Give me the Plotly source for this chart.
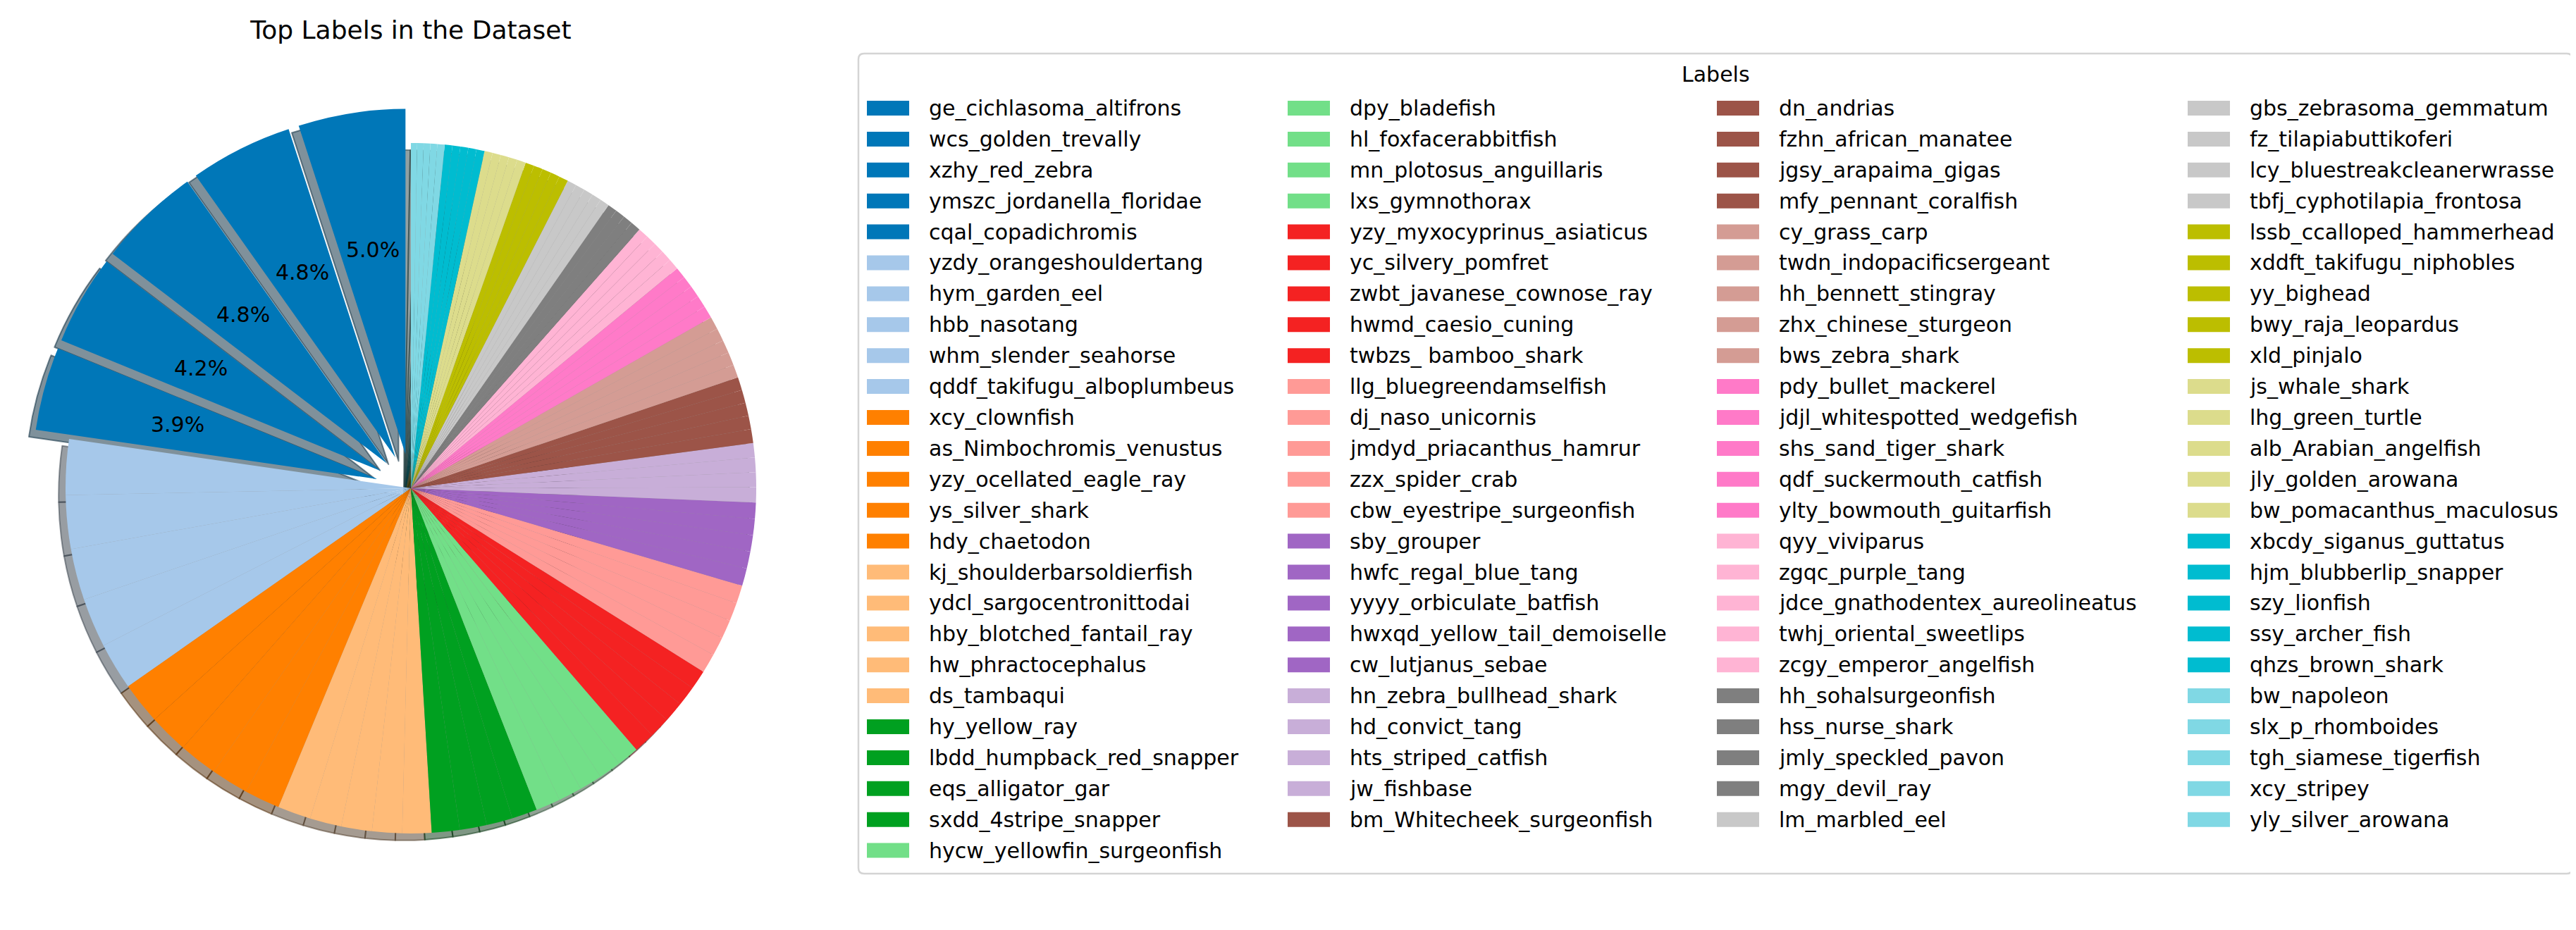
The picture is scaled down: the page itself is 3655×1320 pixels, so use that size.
import math
import plotly.graph_objects as go

# class names, in slice order (largest share first)
labels = [
    "ge_cichlasoma_altifrons", "wcs_golden_trevally", "xzhy_red_zebra",
    "ymszc_jordanella_floridae", "cqal_copadichromis", "yzdy_orangeshouldertang",
    "hym_garden_eel", "hbb_nasotang", "whm_slender_seahorse",
    "qddf_takifugu_alboplumbeus", "xcy_clownfish", "as_Nimbochromis_venustus",
    "yzy_ocellated_eagle_ray", "ys_silver_shark", "hdy_chaetodon",
    "kj_shoulderbarsoldierfish", "ydcl_sargocentronittodai", "hby_blotched_fantail_ray",
    "hw_phractocephalus", "ds_tambaqui", "hy_yellow_ray", "lbdd_humpback_red_snapper",
    "eqs_alligator_gar", "sxdd_4stripe_snapper", "hycw_yellowfin_surgeonfish",
    "dpy_bladefish", "hl_foxfacerabbitfish", "mn_plotosus_anguillaris", "lxs_gymnothorax",
    "yzy_myxocyprinus_asiaticus", "yc_silvery_pomfret", "zwbt_javanese_cownose_ray",
    "hwmd_caesio_cuning", "twbzs_ bamboo_shark", "llg_bluegreendamselfish",
    "dj_naso_unicornis", "jmdyd_priacanthus_hamrur", "zzx_spider_crab",
    "cbw_eyestripe_surgeonfish", "sby_grouper", "hwfc_regal_blue_tang",
    "yyyy_orbiculate_batfish", "hwxqd_yellow_tail_demoiselle", "cw_lutjanus_sebae",
    "hn_zebra_bullhead_shark", "hd_convict_tang", "hts_striped_catfish", "jw_fishbase",
    "bm_Whitecheek_surgeonfish", "dn_andrias", "fzhn_african_manatee",
    "jgsy_arapaima_gigas", "mfy_pennant_coralfish", "cy_grass_carp",
    "twdn_indopacificsergeant", "hh_bennett_stingray", "zhx_chinese_sturgeon",
    "bws_zebra_shark", "pdy_bullet_mackerel", "jdjl_whitespotted_wedgefish",
    "shs_sand_tiger_shark", "qdf_suckermouth_catfish", "ylty_bowmouth_guitarfish",
    "qyy_viviparus", "zgqc_purple_tang", "jdce_gnathodentex_aureolineatus",
    "twhj_oriental_sweetlips", "zcgy_emperor_angelfish", "hh_sohalsurgeonfish",
    "hss_nurse_shark", "jmly_speckled_pavon", "mgy_devil_ray", "lm_marbled_eel",
    "gbs_zebrasoma_gemmatum", "fz_tilapiabuttikoferi", "lcy_bluestreakcleanerwrasse",
    "tbfj_cyphotilapia_frontosa", "lssb_ccalloped_hammerhead", "xddft_takifugu_niphobles",
    "yy_bighead", "bwy_raja_leopardus", "xld_pinjalo", "js_whale_shark",
    "lhg_green_turtle", "alb_Arabian_angelfish", "jly_golden_arowana",
    "bw_pomacanthus_maculosus", "xbcdy_siganus_guttatus", "hjm_blubberlip_snapper",
    "szy_lionfish", "ssy_archer_fish", "qhzs_brown_shark", "bw_napoleon",
    "slx_p_rhomboides", "tgh_siamese_tigerfish", "xcy_stripey", "yly_silver_arowana",
]

# share of the dataset (%)
share = [
    5.0, 4.8, 4.8, 4.2, 3.9,
    2.6, 2.5, 2.4, 2.3, 2.2,
    1.95, 1.85, 1.8, 1.75, 1.65,
    1.55, 1.48, 1.43, 1.40, 1.36,
    1.30, 1.26, 1.22, 1.19,
    1.15, 1.10, 1.07, 1.05, 1.02,
    0.99, 0.97, 0.95, 0.93, 0.91,
    0.90, 0.88, 0.87, 0.86, 0.85,
    0.82, 0.79, 0.77, 0.76, 0.75,
    0.71, 0.69, 0.68, 0.67,
    0.65, 0.63, 0.61, 0.61, 0.61,
    0.61, 0.61, 0.61, 0.60, 0.60,
    0.58, 0.56, 0.55, 0.54, 0.52,
    0.51, 0.51, 0.50, 0.49, 0.49,
    0.47, 0.45, 0.45, 0.44,
    0.44, 0.44, 0.44, 0.44, 0.43,
    0.43, 0.43, 0.42, 0.42, 0.41,
    0.41, 0.40, 0.39, 0.39, 0.38,
    0.38, 0.38, 0.37, 0.37, 0.36,
    0.34, 0.32, 0.31, 0.30, 0.29,
]

# tab20-like palette as it appears in the picture
palette = [
    "#0077b8", "#a6c8ea", "#ff8000", "#ffbb78", "#00a020", "#72df88",
    "#f42222", "#ff9a96", "#a066c4", "#c8aed8", "#9c5448", "#d49c94",
    "#ff7ac8", "#ffb4d4", "#7f7f7f", "#c8c8c8", "#bcbe00", "#dcdc8c",
    "#00bcd0", "#80d8e4",
]

W, H = 3655, 1320
FONT = "DejaVu Sans"
n = len(share)
total = sum(share)
colors = [palette[min(i * 20 // (n - 1), 19)] for i in range(n)]


def shadow_of(hex_color):
    # matplotlib shadow: 0.3 * colour drawn at alpha 0.5
    rgb = [int(hex_color[k:k + 2], 16) for k in (1, 3, 5)]
    return "rgba(%d,%d,%d,0.5)" % tuple(round(0.3 * c) for c in rgb)


pulls = [0.1 if i < 5 else 0 for i in range(n)]
# plotly ends the first ccw slice at 12 o'clock, matplotlib starts it there
rot = -share[0] / total * 360

# pie placement in pixels
cx, cy, R = 575, 685, 490
half = R * (1 + max(pulls))
off = 0.02 * R


def dom(dx=0, dy=0):
    return dict(x=[(cx + dx - half) / W, (cx + dx + half) / W],
                y=[1 - (cy + dy + half) / H, 1 - (cy + dy - half) / H])


fig = go.Figure()

# shadow below the slices
shadow_cols = [shadow_of(c) for c in colors]
fig.add_trace(go.Pie(labels=labels, values=share, sort=False, direction="counterclockwise",
                     rotation=rot, pull=pulls, textinfo="none", hoverinfo="skip",
                     marker=dict(colors=shadow_cols, line=dict(color=shadow_cols, width=2)),
                     domain=dom(-off, off), showlegend=False))

fig.add_trace(go.Pie(labels=labels, values=share, sort=False, direction="counterclockwise",
                     rotation=rot, pull=pulls, textinfo="none",
                     marker=dict(colors=colors), domain=dom(), showlegend=False))

annotations = []
shapes = []

# percentage labels for the big slices (autopct style, 0.6 r + explode)
cum = 0
for i, v in enumerate(share):
    mid = cum + v / 2
    cum += v
    pct = v / total * 100
    if pct > 3:
        th = math.radians(90 + mid / total * 360)
        rr = (pulls[i] + 0.6) * R
        annotations.append(dict(x=(cx + rr * math.cos(th)) / W, y=1 - (cy - rr * math.sin(th)) / H,
                                xref="paper", yref="paper", text=f"{pct:.1f}%", showarrow=False,
                                xanchor="center", yanchor="middle",
                                font=dict(family=FONT, size=30, color="black")))

# legend, 4 columns
col_x = [1222, 1819, 2428, 3096]
col_len = [25, 24, 24, 24]
row0, row_h = 145.5, 43.9
sw_w, sw_h = 60, 21
i = 0
for c, cnt in enumerate(col_len):
    for r in range(cnt):
        y = row0 + r * row_h
        x = col_x[c]
        shapes.append(dict(type="rect", xref="paper", yref="paper",
                           x0=x / W, x1=(x + sw_w) / W,
                           y0=1 - (y + sw_h / 2) / H, y1=1 - (y - sw_h / 2) / H,
                           fillcolor=colors[i], line=dict(width=0)))
        annotations.append(dict(x=(x + 86) / W, y=1 - y / H, xref="paper", yref="paper",
                                text=labels[i], showarrow=False, xanchor="left", yanchor="middle",
                                font=dict(family=FONT, size=30, color="black")))
        i += 1

# legend frame with rounded corners
fx0, fx1, fy0, fy1, rad = 1210, 3642, 68, 1232, 8


def P(x, y):
    return f"{x / W:.6f},{1 - y / H:.6f}"


frame = (f"M {P(fx0 + rad, fy0)} L {P(fx1 - rad, fy0)} Q {P(fx1, fy0)} {P(fx1, fy0 + rad)} "
         f"L {P(fx1, fy1 - rad)} Q {P(fx1, fy1)} {P(fx1 - rad, fy1)} "
         f"L {P(fx0 + rad, fy1)} Q {P(fx0, fy1)} {P(fx0, fy1 - rad)} "
         f"L {P(fx0, fy0 + rad)} Q {P(fx0, fy0)} {P(fx0 + rad, fy0)} Z")
shapes.insert(0, dict(type="path", xref="paper", yref="paper", path=frame,
                      line=dict(color="#d4d4d4", width=2.5), fillcolor="rgba(255,255,255,0.8)",
                      layer="below"))

annotations.append(dict(x=(fx0 + fx1) / 2 / W, y=1 - 98 / H, xref="paper", yref="paper",
                        text="Labels", showarrow=False, xanchor="center", yanchor="middle",
                        font=dict(family=FONT, size=30, color="black")))

fig.update_layout(
    width=W, height=H,
    margin=dict(l=0, r=0, t=0, b=0),
    paper_bgcolor="white",
    showlegend=False,
    title=dict(text="Top Labels in the Dataset", x=cx / W, y=1 - 34 / H,
               xanchor="center", yanchor="middle",
               font=dict(family=FONT, size=36, color="black")),
    annotations=annotations,
    shapes=shapes,
)

fig.write_html("out.html")
